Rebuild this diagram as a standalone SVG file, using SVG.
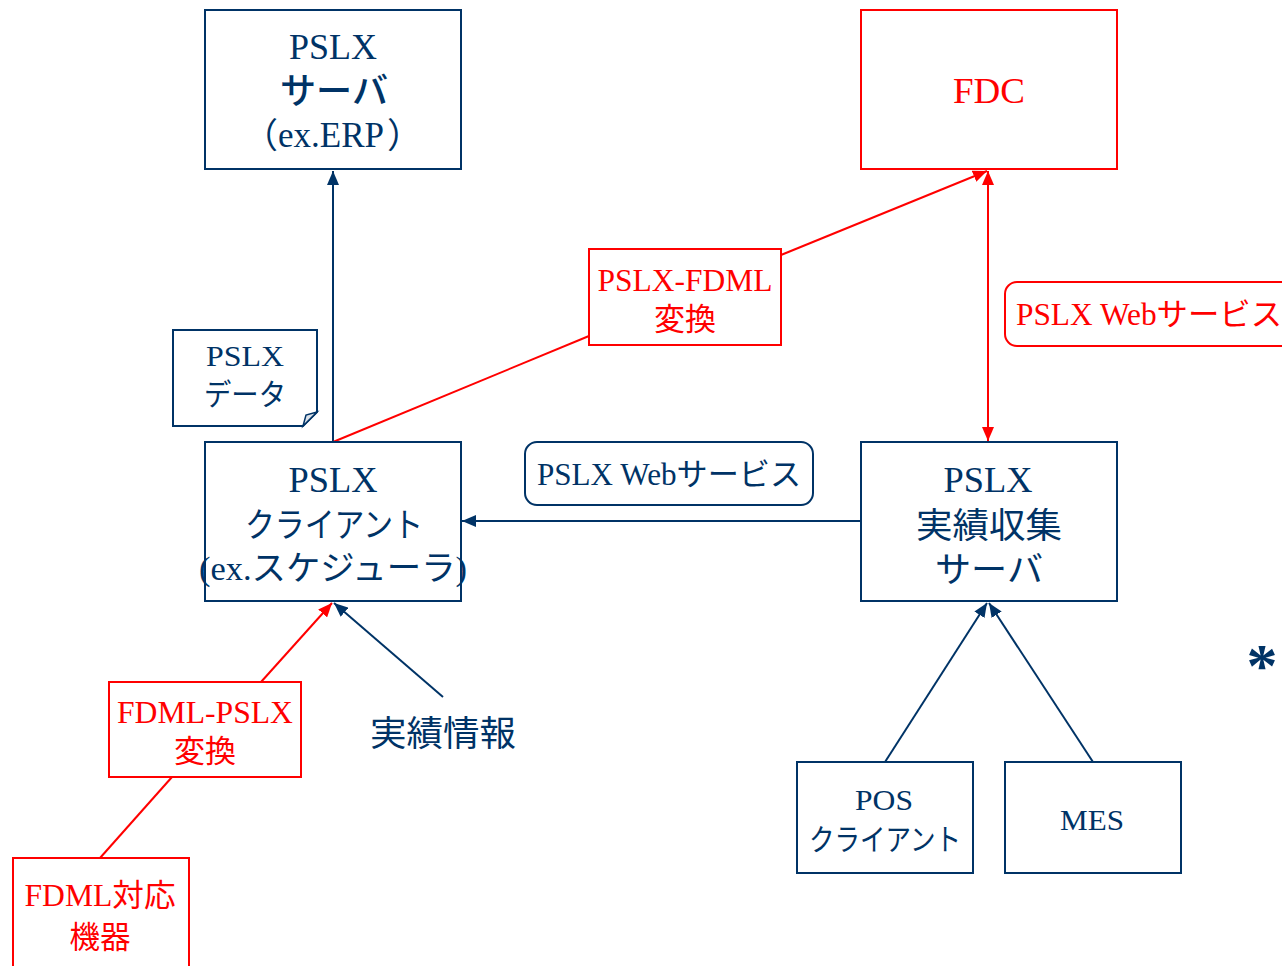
<svg xmlns="http://www.w3.org/2000/svg" width="1282" height="966" viewBox="0 0 1282 966">
<defs>
<style>
.nb{fill:#fff;stroke:#003366;stroke-width:2}
.rb{fill:#fff;stroke:#ff0000;stroke-width:2}
.t{font-family:"Liberation Serif","Noto Sans CJK JP",serif;text-anchor:middle}
.tn{fill:#003366}
.tr{fill:#ff0000}
.ln{stroke:#003366;stroke-width:2;fill:none}
.lr{stroke:#ff0000;stroke-width:2;fill:none}
</style>
<marker id="an" viewBox="0 0 14 12" refX="14" refY="6" markerWidth="14" markerHeight="12" markerUnits="userSpaceOnUse" orient="auto"><path d="M0,0 L14,6 L0,12 Z" fill="#003366"/></marker>
<marker id="ar" viewBox="0 0 14 12" refX="14" refY="6" markerWidth="14" markerHeight="12" markerUnits="userSpaceOnUse" orient="auto"><path d="M0,0 L14,6 L0,12 Z" fill="#ff0000"/></marker>
<marker id="ars" viewBox="0 0 14 12" refX="0" refY="6" markerWidth="14" markerHeight="12" markerUnits="userSpaceOnUse" orient="auto"><path d="M14,0 L0,6 L14,12 Z" fill="#ff0000"/></marker>
</defs>
<rect width="1282" height="966" fill="#fff"/>
<g id="connectors">
<line class="ln" x1="333" y1="442" x2="333" y2="171" marker-end="url(#an)"/>
<polyline class="lr" points="333,442 589,336"/>
<line class="lr" x1="781" y1="255" x2="987" y2="171" marker-end="url(#ar)"/>
<line class="lr" x1="988" y1="171" x2="988" y2="441" marker-start="url(#ars)" marker-end="url(#ar)"/>
<line class="ln" x1="861" y1="521" x2="462" y2="521" marker-end="url(#an)"/>
<line class="lr" x1="261" y1="682" x2="332" y2="603" marker-end="url(#ar)"/>
<line class="lr" x1="172" y1="777" x2="100" y2="858"/>
<line class="ln" x1="443" y1="697" x2="334" y2="603" marker-end="url(#an)"/>
<line class="ln" x1="885" y1="762" x2="987" y2="603" marker-end="url(#an)"/>
<line class="ln" x1="1093" y1="762" x2="989" y2="603" marker-end="url(#an)"/>
</g>
<g id="pslx-server">
<rect class="nb" x="205" y="10" width="256" height="159"/>
<text class="t tn" x="333" y="59" font-size="36" textLength="88" lengthAdjust="spacingAndGlyphs">PSLX</text>
<text class="t tn" x="334" y="104" font-size="36" font-weight="500" textLength="108" lengthAdjust="spacingAndGlyphs">サーバ</text>
<text class="t tn" font-size="35"><tspan x="243" y="148" style="text-anchor:start">（</tspan><tspan x="331" y="147" style="text-anchor:middle">ex.ERP</tspan><tspan x="387" y="148" style="text-anchor:start">）</tspan></text>
</g>
<g id="fdc">
<rect class="rb" x="861" y="10" width="256" height="159"/>
<text class="t tr" x="989" y="103" font-size="35" textLength="72" lengthAdjust="spacingAndGlyphs">FDC</text>
</g>
<g id="pslx-fdml">
<rect class="rb" x="589" y="249" width="192" height="96"/>
<text class="t tr" x="685" y="291" font-size="31" textLength="175" lengthAdjust="spacingAndGlyphs">PSLX-FDML</text>
<text class="t tr" x="685" y="330" font-size="31" textLength="62" lengthAdjust="spacingAndGlyphs">変換</text>
</g>
<g id="web-service-red">
<rect class="rb" x="1005" y="282" width="290" height="64" rx="12"/>
<text class="t tr" x="1016" y="325" font-size="31" style="text-anchor:start" textLength="266" lengthAdjust="spacingAndGlyphs">PSLX Webサービス</text>
</g>
<g id="pslx-data">
<path class="nb" d="M173,330 H317 V412 L303,426 H173 Z"/>
<path d="M317,412 L303,426 L306,415 Z" fill="#dde3ea" stroke="#003366" stroke-width="1.5"/>
<text class="t tn" x="245" y="366" font-size="30" textLength="78" lengthAdjust="spacingAndGlyphs">PSLX</text>
<text class="t tn" x="245" y="405" font-size="30" textLength="82" lengthAdjust="spacingAndGlyphs">データ</text>
</g>
<g id="pslx-client">
<rect class="nb" x="205" y="442" width="256" height="159"/>
<text class="t tn" x="333" y="492" font-size="36" textLength="89" lengthAdjust="spacingAndGlyphs">PSLX</text>
<text class="t tn" x="334" y="537" font-size="34" textLength="178" lengthAdjust="spacingAndGlyphs">クライアント</text>
<text class="t tn" x="333" y="580" font-size="34" textLength="268" lengthAdjust="spacingAndGlyphs">(ex.スケジューラ)</text>
</g>
<g id="web-service">
<rect class="nb" x="525" y="442" width="288" height="63" rx="12"/>
<text class="t tn" x="669" y="485" font-size="31" textLength="264" lengthAdjust="spacingAndGlyphs">PSLX Webサービス</text>
</g>
<g id="collection-server">
<rect class="nb" x="861" y="442" width="256" height="159"/>
<text class="t tn" x="988" y="492" font-size="36" textLength="89" lengthAdjust="spacingAndGlyphs">PSLX</text>
<text class="t tn" x="989" y="538" font-size="35" textLength="146" lengthAdjust="spacingAndGlyphs">実績収集</text>
<text class="t tn" x="989" y="582" font-size="35" textLength="108" lengthAdjust="spacingAndGlyphs">サーバ</text>
</g>
<g id="fdml-pslx">
<rect class="rb" x="109" y="682" width="192" height="95"/>
<text class="t tr" x="205" y="723" font-size="31" textLength="176" lengthAdjust="spacingAndGlyphs">FDML-PSLX</text>
<text class="t tr" x="205" y="762" font-size="31" textLength="62" lengthAdjust="spacingAndGlyphs">変換</text>
</g>
<g id="results-info">
<text class="t tn" x="443" y="746" font-size="35" textLength="146" lengthAdjust="spacingAndGlyphs">実績情報</text>
</g>
<g id="fdml-device">
<rect class="rb" x="13" y="858" width="176" height="120"/>
<text class="t tr" x="100" y="906" font-size="31" textLength="151" lengthAdjust="spacingAndGlyphs">FDML対応</text>
<text class="t tr" x="100" y="948" font-size="31" textLength="61" lengthAdjust="spacingAndGlyphs">機器</text>
</g>
<g id="pos-client">
<rect class="nb" x="797" y="762" width="176" height="111"/>
<text class="t tn" x="884" y="810" font-size="30" textLength="58" lengthAdjust="spacingAndGlyphs">POS</text>
<text class="t tn" x="885" y="850" font-size="30" textLength="152" lengthAdjust="spacingAndGlyphs">クライアント</text>
</g>
<g id="mes">
<rect class="nb" x="1005" y="762" width="176" height="111"/>
<text class="t tn" x="1092" y="830" font-size="30" textLength="64" lengthAdjust="spacingAndGlyphs">MES</text>
</g>
<g id="asterisk">
<text class="t tn" x="1262" y="686" font-size="62" font-weight="bold" font-family="Liberation Sans, sans-serif">*</text>
</g>
</svg>
